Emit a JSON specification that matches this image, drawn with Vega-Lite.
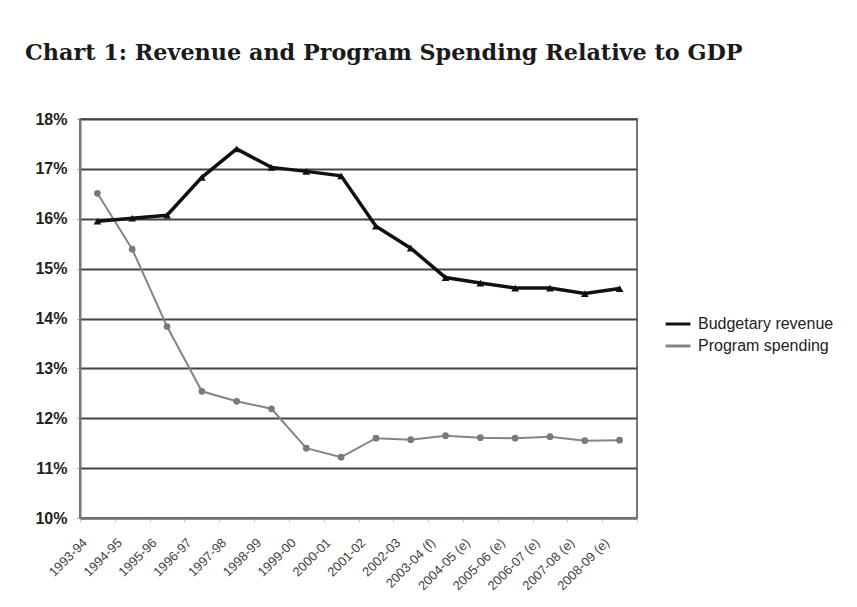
{
  "$schema": "https://vega.github.io/schema/vega-lite/v6.json",
  "width": 557,
  "height": 399,
  "autosize": {"type": "none"},
  "padding": {"left": 80, "top": 119, "right": 220, "bottom": 89},
  "background": "white",
  "title": {
    "text": "Chart 1: Revenue and Program Spending Relative to GDP",
    "anchor": "start",
    "frame": "group",
    "dx": -55,
    "offset": 47,
    "font": "DejaVu Serif",
    "fontSize": 22.3,
    "fontWeight": "bold",
    "color": "#1a1a1a"
  },
  "config": {
    "view": {"stroke": "#777", "strokeWidth": 2},
    "axis": {"domainColor": "#777", "domainWidth": 2}
  },
  "data": {
    "values": [
      {"period": "1993-94", "series": "Budgetary revenue", "value": 15.95},
      {"period": "1994-95", "series": "Budgetary revenue", "value": 16.01},
      {"period": "1995-96", "series": "Budgetary revenue", "value": 16.07},
      {"period": "1996-97", "series": "Budgetary revenue", "value": 16.83},
      {"period": "1997-98", "series": "Budgetary revenue", "value": 17.4},
      {"period": "1998-99", "series": "Budgetary revenue", "value": 17.03},
      {"period": "1999-00", "series": "Budgetary revenue", "value": 16.95},
      {"period": "2000-01", "series": "Budgetary revenue", "value": 16.86},
      {"period": "2001-02", "series": "Budgetary revenue", "value": 15.85},
      {"period": "2002-03", "series": "Budgetary revenue", "value": 15.41},
      {"period": "2003-04 (f)", "series": "Budgetary revenue", "value": 14.82},
      {"period": "2004-05 (e)", "series": "Budgetary revenue", "value": 14.71},
      {"period": "2005-06 (e)", "series": "Budgetary revenue", "value": 14.61},
      {"period": "2006-07 (e)", "series": "Budgetary revenue", "value": 14.61},
      {"period": "2007-08 (e)", "series": "Budgetary revenue", "value": 14.5},
      {"period": "2008-09 (e)", "series": "Budgetary revenue", "value": 14.6},
      {"period": "1993-94", "series": "Program spending", "value": 16.51},
      {"period": "1994-95", "series": "Program spending", "value": 15.39},
      {"period": "1995-96", "series": "Program spending", "value": 13.84},
      {"period": "1996-97", "series": "Program spending", "value": 12.54},
      {"period": "1997-98", "series": "Program spending", "value": 12.34},
      {"period": "1998-99", "series": "Program spending", "value": 12.19},
      {"period": "1999-00", "series": "Program spending", "value": 11.4},
      {"period": "2000-01", "series": "Program spending", "value": 11.22},
      {"period": "2001-02", "series": "Program spending", "value": 11.6},
      {"period": "2002-03", "series": "Program spending", "value": 11.57},
      {"period": "2003-04 (f)", "series": "Program spending", "value": 11.65},
      {"period": "2004-05 (e)", "series": "Program spending", "value": 11.61},
      {"period": "2005-06 (e)", "series": "Program spending", "value": 11.6},
      {"period": "2006-07 (e)", "series": "Program spending", "value": 11.63},
      {"period": "2007-08 (e)", "series": "Program spending", "value": 11.55},
      {"period": "2008-09 (e)", "series": "Program spending", "value": 11.56}
    ]
  },
  "encoding": {
    "x": {
      "field": "period",
      "type": "ordinal",
      "sort": null,
      "scale": {"paddingInner": 0, "paddingOuter": 0},
      "axis": {
        "title": null,
        "labelAngle": -45,
        "labelFont": "Liberation Sans",
        "labelFontSize": 13,
        "labelColor": "#444",
        "tickBand": "extent",
        "tickColor": "#ccc",
        "tickSize": 4,
        "labelPadding": 14,
        "labelOffset": -17,
        "grid": false
      }
    },
    "y": {
      "field": "value",
      "type": "quantitative",
      "scale": {"domain": [10, 18], "nice": false, "zero": false},
      "axis": {
        "title": null,
        "values": [10, 11, 12, 13, 14, 15, 16, 17, 18],
        "labelExpr": "datum.value + '%'",
        "labelFont": "Liberation Sans",
        "labelFontSize": 16,
        "labelFontWeight": "bold",
        "labelColor": "#222",
        "labelPadding": 10,
        "tickColor": "#999",
        "tickSize": 3,
        "grid": true,
        "gridColor": "#444",
        "gridWidth": 2
      }
    }
  },
  "layer": [
    {
      "transform": [{"filter": "datum.series === 'Program spending'"}],
      "mark": {"type": "line", "strokeWidth": 2},
      "encoding": {
        "color": {
          "field": "series",
          "type": "nominal",
          "scale": {"domain": ["Budgetary revenue", "Program spending"], "range": ["#111111", "#858585"]},
          "legend": {
            "title": null,
            "orient": "none",
            "legendX": 584,
            "legendY": 191,
            "labelFont": "Liberation Sans",
            "labelFontSize": 16,
            "labelColor": "#222",
            "symbolType": "stroke",
            "symbolSize": 620,
            "symbolStrokeWidth": 3,
            "rowPadding": 0,
            "labelOffset": 6,
            "labelLimit": 300
          }
        }
      }
    },
    {
      "transform": [{"filter": "datum.series === 'Program spending'"}],
      "mark": {"type": "point", "filled": true, "opacity": 1, "shape": "circle", "size": 45, "color": "#7a7a7a"}
    },
    {
      "transform": [{"filter": "datum.series === 'Budgetary revenue'"}],
      "mark": {"type": "line", "strokeWidth": 3.5},
      "encoding": {
        "color": {"field": "series", "type": "nominal"}
      }
    },
    {
      "transform": [{"filter": "datum.series === 'Budgetary revenue'"}],
      "mark": {"type": "point", "filled": true, "opacity": 1, "shape": "triangle-up", "size": 60, "color": "#111111"}
    }
  ]
}
